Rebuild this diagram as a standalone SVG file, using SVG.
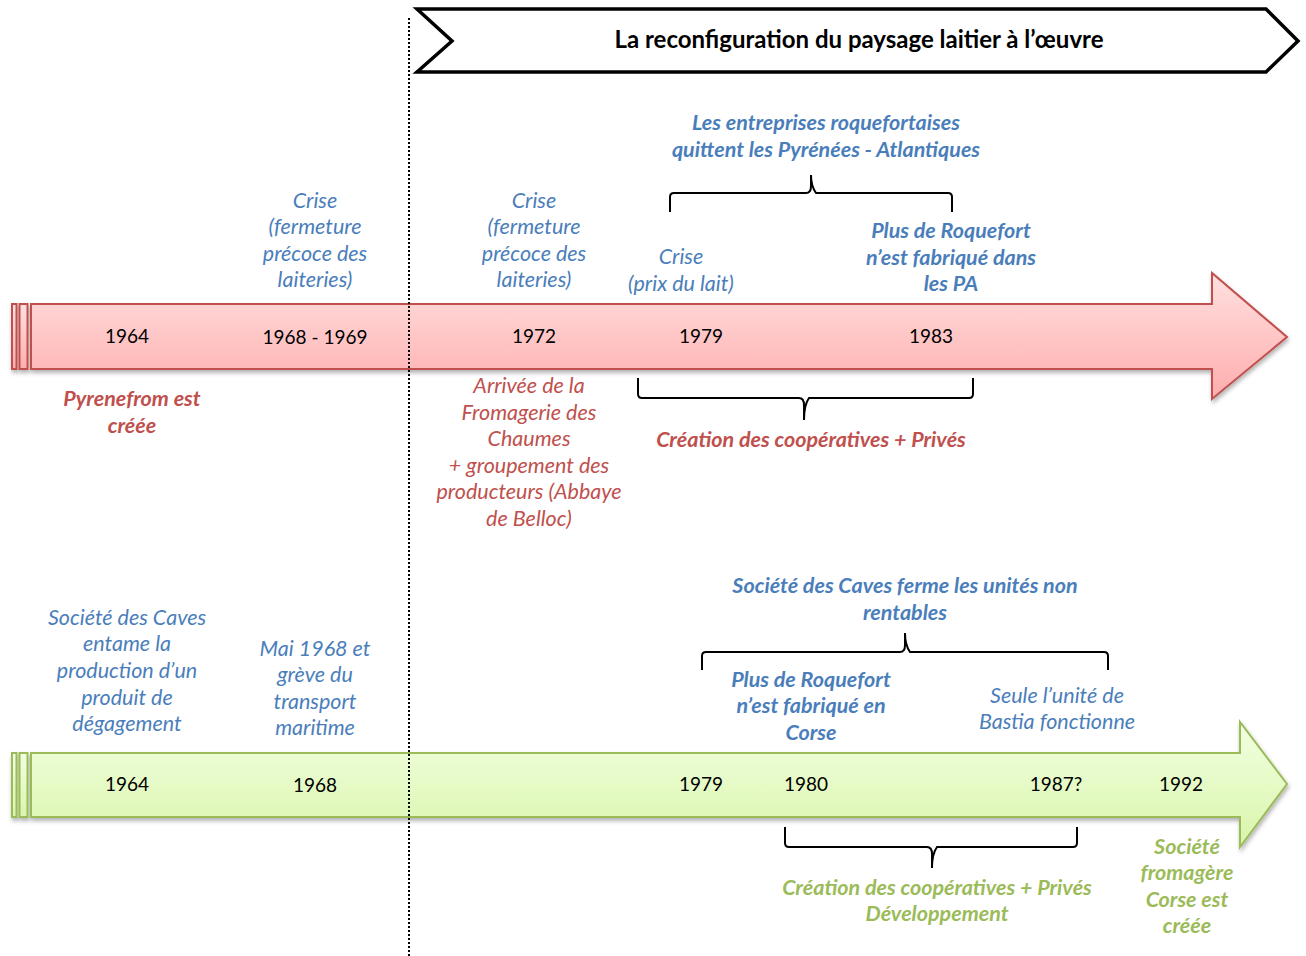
<svg xmlns="http://www.w3.org/2000/svg" width="1306" height="956" viewBox="0 0 1306 956">
<defs>
<linearGradient id="gRed" x1="0" y1="0" x2="0" y2="1">
<stop offset="0" stop-color="#ffe0e0"/><stop offset="1" stop-color="#ffadad"/>
</linearGradient>
<linearGradient id="gGreen" x1="0" y1="0" x2="0" y2="1">
<stop offset="0" stop-color="#f2ffe2"/><stop offset="1" stop-color="#d9f5aa"/>
</linearGradient>
<filter id="sh" x="-5%" y="-20%" width="110%" height="140%">
<feDropShadow dx="1" dy="3" stdDeviation="2" flood-color="#000" flood-opacity="0.3"/>
</filter>
</defs>
<style>
text{font-family:Lato,"Liberation Sans",sans-serif;font-size:21.5px;text-anchor:middle}
.yr{fill:#000;font-size:19px}
.bl{fill:#4a7ebb;font-style:italic}
.rd{fill:#c0504d;font-style:italic}
.gr{fill:#9bbb59;font-style:italic}
.b{font-weight:bold}
.brace{fill:none;stroke:#000;stroke-width:2}
.ra{fill:url(#gRed);stroke:#c0504d;stroke-width:2}
.ga{fill:url(#gGreen);stroke:#9bbb59;stroke-width:2}
</style>

<g id="header">
<polygon points="417,9 1266,9 1298,41 1266,72 417,72 452,41" fill="#fff" stroke="#000" stroke-width="3.5"/>
<text x="859" y="48" style="font-size:24px;font-weight:bold">La reconfiguration du paysage laitier à l’œuvre</text>
</g>

<g id="red-arrow" filter="url(#sh)">
<rect class="ra" x="12" y="304" width="4.5" height="65"/>
<rect class="ra" x="19.5" y="304" width="8" height="65"/>
<polygon class="ra" points="31,304 1212,304 1212,273 1287,337 1212,399 1212,369 31,369"/>
</g>

<g id="green-arrow" filter="url(#sh)">
<rect class="ga" x="12" y="753" width="4.5" height="64"/>
<rect class="ga" x="19.5" y="753" width="8" height="64"/>
<polygon class="ga" points="31,753 1240,753 1240,722 1287,784 1240,847 1240,817 31,817"/>
</g>

<g id="separator">
<line x1="409" y1="18" x2="409" y2="956" stroke="#000" stroke-width="2" stroke-dasharray="2,2"/>
</g>

<g id="connectors">
<path class="brace" d="M670,212 V197 Q670,193 674,193 H806 Q811,193 811,186 V175 Q811,186 816,193 H948 Q952,193 952,197 V212"/>
<path class="brace" d="M638,378 V394 Q638,398 642,398 H799 Q804,398 804,405 V420 Q804,405 809,398 H969 Q973,398 973,394 V378"/>
<path class="brace" d="M702,670 V656 Q702,652 706,652 H900 Q905,652 905,645 V633 Q905,645 910,652 H1104 Q1108,652 1108,656 V670"/>
<path class="brace" d="M785,827 V843 Q785,847 789,847 H927 Q932,847 932,854 V868 Q932,854 937,847 H1073 Q1077,847 1077,843 V827"/>
</g>

<g id="red-years">
<text class="yr" x="127" y="343">1964</text>
<text class="yr" x="315" y="344">1968 - 1969</text>
<text class="yr" x="534" y="343">1972</text>
<text class="yr" x="701" y="343">1979</text>
<text class="yr" x="931" y="343">1983</text>
</g>

<g id="crise-1968">
<text class="bl" x="315" y="208">Crise</text>
<text class="bl" x="315" y="234">(fermeture</text>
<text class="bl" x="315" y="261">précoce des</text>
<text class="bl" x="315" y="287">laiteries)</text>
</g>
<g id="crise-1972">
<text class="bl" x="534" y="208">Crise</text>
<text class="bl" x="534" y="234">(fermeture</text>
<text class="bl" x="534" y="261">précoce des</text>
<text class="bl" x="534" y="287">laiteries)</text>
</g>
<g id="crise-1979">
<text class="bl" x="681" y="264">Crise</text>
<text class="bl" x="681" y="291">(prix du lait)</text>
</g>
<g id="quittent">
<text class="bl b" x="826" y="130">Les entreprises roquefortaises</text>
<text class="bl b" x="826" y="157">quittent les Pyrénées - Atlantiques</text>
</g>
<g id="plus-pa">
<text class="bl b" x="951" y="238">Plus de Roquefort</text>
<text class="bl b" x="951" y="265">n’est fabriqué dans</text>
<text class="bl b" x="951" y="291">les PA</text>
</g>

<g id="pyrenefrom">
<text class="rd b" x="132" y="406">Pyrenefrom est</text>
<text class="rd b" x="132" y="433">créée</text>
</g>
<g id="chaumes">
<text class="rd" x="529" y="393">Arrivée de la</text>
<text class="rd" x="529" y="420">Fromagerie des</text>
<text class="rd" x="529" y="446">Chaumes</text>
<text class="rd" x="529" y="473">+ groupement des</text>
<text class="rd" x="529" y="499">producteurs (Abbaye</text>
<text class="rd" x="529" y="526">de Belloc)</text>
</g>
<g id="coop-red">
<text class="rd b" x="811" y="447">Création des coopératives + Privés</text>
</g>

<g id="green-years">
<text class="yr" x="127" y="791">1964</text>
<text class="yr" x="315" y="792">1968</text>
<text class="yr" x="701" y="791">1979</text>
<text class="yr" x="806" y="791">1980</text>
<text class="yr" x="1056" y="791">1987?</text>
<text class="yr" x="1181" y="791">1992</text>
</g>

<g id="societe-caves">
<text class="bl" x="127" y="625">Société des Caves</text>
<text class="bl" x="127" y="651">entame la</text>
<text class="bl" x="127" y="678">production d’un</text>
<text class="bl" x="127" y="705">produit de</text>
<text class="bl" x="127" y="731">dégagement</text>
</g>
<g id="mai-1968">
<text class="bl" x="315" y="656">Mai 1968 et</text>
<text class="bl" x="315" y="682">grève du</text>
<text class="bl" x="315" y="709">transport</text>
<text class="bl" x="315" y="735">maritime</text>
</g>
<g id="ferme">
<text class="bl b" x="905" y="593">Société des Caves ferme les unités non</text>
<text class="bl b" x="905" y="620">rentables</text>
</g>
<g id="plus-corse">
<text class="bl b" x="811" y="687">Plus de Roquefort</text>
<text class="bl b" x="811" y="713">n’est fabriqué en</text>
<text class="bl b" x="811" y="740">Corse</text>
</g>
<g id="bastia">
<text class="bl" x="1057" y="703">Seule l’unité de</text>
<text class="bl" x="1057" y="729">Bastia fonctionne</text>
</g>
<g id="coop-green">
<text class="gr b" x="937" y="895">Création des coopératives + Privés</text>
<text class="gr b" x="937" y="921">Développement</text>
</g>
<g id="fromagere-corse">
<text class="gr b" x="1187" y="854">Société</text>
<text class="gr b" x="1187" y="880">fromagère</text>
<text class="gr b" x="1187" y="907">Corse est</text>
<text class="gr b" x="1187" y="933">créée</text>
</g>
</svg>
